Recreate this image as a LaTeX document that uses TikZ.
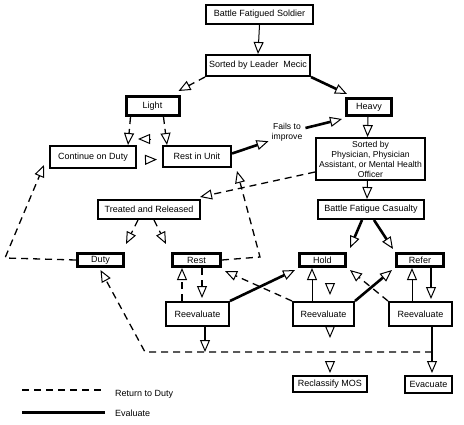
\documentclass[tikz,border=0pt]{standalone}
\usepackage{fontspec}
\setmainfont{Liberation Sans}
\usetikzlibrary{arrows.meta}
\begin{document}
\begin{tikzpicture}[x=1pt,y=-1pt,
  font=\fontsize{9}{10}\selectfont,
  box/.style={draw, line width=2pt, inner sep=0pt, align=center},
  hbox/.style={draw, line width=3pt, inner sep=0pt, align=center},
  tip/.tip={Triangle[open,length=12pt,width=10pt,line width=1pt]},
  thinline/.style={line width=1pt, -tip},
  thickline/.style={line width=2.6pt, -tip},
  dashline/.style={line width=1.3pt, dash pattern=on 7pt off 5pt, -tip},
  tiponly/.style={line width=1pt, dash pattern=on 0pt off 200pt, -tip},
]
\useasboundingbox (0,0) rectangle (464,424);

% nodes
\node[box, minimum width=107pt, minimum height=19pt] (soldier) at (259.5,14.5) {Battle Fatigued Soldier};
\node[box, minimum width=104pt, minimum height=21pt] (leader) at (258,65.5) {Sorted by Leader\ \ Mecic};
\node[hbox, minimum width=53pt, minimum height=19pt] (light) at (152.5,106) {Light};
\node[hbox, minimum width=45pt, minimum height=17pt] (heavy) at (369,107) {Heavy};
\node[box, minimum width=86pt, minimum height=22pt] (cont) at (93,157) {Continue on Duty};
\node[box, minimum width=68pt, minimum height=21pt] (restunit) at (197,156.5) {Rest in Unit};
\node[inner sep=0pt, align=center, font=\fontsize{8.6}{10}\selectfont] (fails) at (287,132) {Fails to\\improve};
\node[box, minimum width=109pt, minimum height=42pt, font=\fontsize{8.6}{10}\selectfont] (phys) at (370.5,159) {Sorted by\\Physician, Physician\\Assistant, or Mental Health\\Officer};
\node[box, minimum width=102pt, minimum height=19pt] (treated) at (149,209.5) {Treated and Released};
\node[box, minimum width=106pt, minimum height=19pt] (bfc) at (371,209.5) {Battle Fatigue Casualty};
\node[hbox, minimum width=46pt, minimum height=13pt] (duty) at (100.5,260) {Duty};
\node[hbox, minimum width=48pt, minimum height=13pt] (rest) at (196.5,260) {Rest};
\node[hbox, minimum width=46pt, minimum height=13pt] (hold) at (322.5,260) {Hold};
\node[hbox, minimum width=47pt, minimum height=13pt] (refer) at (420,260) {Refer};
\node[box, minimum width=63pt, minimum height=24pt] (re1) at (197.5,314) {Reevaluate};
\node[box, minimum width=61pt, minimum height=24pt] (re2) at (323.5,314) {Reevaluate};
\node[box, minimum width=63pt, minimum height=24pt] (re3) at (420.5,314) {Reevaluate};
\node[box, minimum width=74pt, minimum height=16pt] (reclass) at (330,384) {Reclassify MOS};
\node[box, minimum width=47pt, minimum height=17pt] (evac) at (428.5,384.5) {Evacuate};

% helper coordinates
\coordinate (c1) at (260,257);
\coordinate (c2) at (5,258);
\coordinate (j1) at (205,352);
\coordinate (j2) at (432,352);
\coordinate (j3) at (145,352);
\coordinate (m1) at (330,358);

% connectors
\draw[thinline] (soldier.south) -- (leader.north);
\draw[dashline] (leader.south west) -- ([xshift=-2pt,yshift=4pt]light.north east);
\draw[thickline] (leader.south east) -- ([xshift=2pt,yshift=3pt]heavy.north west);
\draw[dashline] ([xshift=-22pt]light.south) -- ([xshift=35pt]cont.north);
\draw[dashline] ([xshift=11pt]light.south) -- ([xshift=-30pt]restunit.north);
\draw[thinline] ([shift={(-11pt,6pt)}]restunit.north west) -- ([shift={(1pt,6pt)}]cont.north east);
\draw[tiponly] ([yshift=-3pt]cont.east) -- ([xshift=-5pt,yshift=-3pt]restunit.west);
\draw[thickline] ([yshift=3pt]restunit.east) -- ([xshift=-3pt]fails.south west);
\draw[thickline] ([xshift=3pt,yshift=4pt]fails.east) -- ([xshift=-3pt,yshift=-2pt]heavy.south west);
\draw[thinline] ([xshift=-1pt]heavy.south) -- ([xshift=-3pt]phys.north);
\draw[dashline] ([yshift=-13pt]phys.west) -- ([xshift=-1pt,yshift=2pt]treated.north east);
\draw[thinline] ([xshift=-3pt]phys.south) -- ([xshift=-4pt]bfc.north);
\draw[dashline] (rest.east) -- (c1) -- ([xshift=5pt,yshift=-3pt]restunit.south east);
\draw[dashline] (duty.west) -- (c2) -- ([xshift=-5pt,yshift=4pt]cont.south west);
\draw[dashline] ([xshift=-11pt]treated.south) -- ([xshift=1pt,yshift=8pt]duty.north east);
\draw[dashline] ([xshift=5pt]treated.south) -- ([xshift=-5pt,yshift=8pt]rest.north west);
\draw[thickline] ([xshift=-9pt]bfc.south) -- ([xshift=3pt,yshift=4pt]hold.north east);
\draw[thickline] ([xshift=3pt]bfc.south) -- ([xshift=-2pt,yshift=3pt]refer.north west);
\draw[dashline] ([xshift=-15.5pt]re1.north) -- ([xshift=-14.5pt]rest.south);
\draw[dashline] ([xshift=5.5pt]rest.south) -- ([xshift=4.5pt,yshift=3pt]re1.north);
\draw[thickline] (re1.north east) -- ([xshift=-3pt,yshift=-2pt]hold.south west);
\draw[dashline] (re2.north west) -- ([xshift=3pt,yshift=-3pt]rest.south east);
\draw[thinline] ([xshift=-11.5pt]re2.north) -- ([xshift=-10.5pt]hold.south);
\draw[tiponly] ([xshift=7.5pt]hold.south) -- ([xshift=6.5pt,yshift=6pt]re2.north);
\draw[tiponly] ([xshift=6.5pt]re2.south) -- ([xshift=6.5pt,yshift=-11pt]re2.south);
\draw[tiponly] (m1) -- ([yshift=2pt]reclass.north);
\draw[thickline] ([xshift=7.5pt]re1.south) -- (j1);
\draw[thickline] ([xshift=11.5pt]re3.south) -- ([xshift=3.5pt,yshift=2pt]evac.north);
\draw[dashline] (j2) -- (j3) -- ([yshift=-2pt]duty.south);
\draw[thickline] (re2.north east) -- ([xshift=-3pt,yshift=-2pt]refer.south west);
\draw[dashline] (re3.north west) -- ([xshift=3pt,yshift=-2pt]hold.south east);
\draw[thinline] ([xshift=-8.5pt]re3.north) -- ([xshift=-8pt]refer.south);
\draw[thickline] ([xshift=11pt]refer.south) -- ([xshift=10.5pt,yshift=2pt]re3.north);

% legend
\coordinate (l1) at (22,390);
\coordinate (l2) at (102,390);
\coordinate (l3) at (22,412);
\coordinate (l4) at (105,412);
\draw[line width=1.3pt, dash pattern=on 7pt off 5pt] (l1) -- (l2);
\draw[line width=3pt] (l3) -- (l4);
\node[anchor=west, inner sep=0pt] (lg1) at (115,394) {Return to Duty};
\node[anchor=west, inner sep=0pt] (lg2) at (115,413) {Evaluate};
\end{tikzpicture}
\end{document}
